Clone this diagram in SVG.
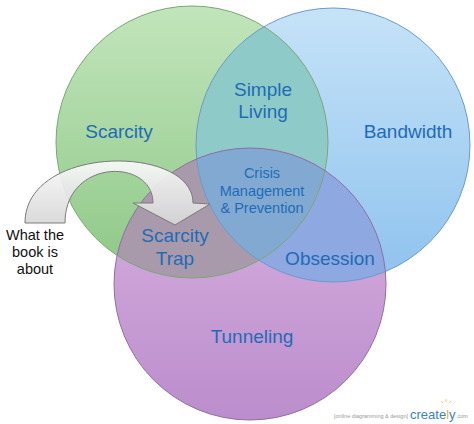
<svg xmlns="http://www.w3.org/2000/svg" width="474" height="424" viewBox="0 0 474 424">
<style>
.lbl{font-family:"Liberation Sans",Arial,sans-serif;fill:#1f6cb6;text-anchor:middle}
.big{font-size:19px}
.small{font-size:14.5px}
.note{font-family:"Liberation Sans",Arial,sans-serif;font-size:14.5px;fill:#111;text-anchor:middle}
.ring{fill:none;stroke-width:1}
</style>
<defs>
<linearGradient id="gG" x1="0" y1="0" x2="0" y2="1"><stop offset="0" stop-color="#c2e5bb"/><stop offset="1" stop-color="#8ec887"/></linearGradient>
<linearGradient id="gB" x1="0" y1="0" x2="0" y2="1"><stop offset="0" stop-color="#c6e3f8"/><stop offset="1" stop-color="#8ec2ee"/></linearGradient>
<linearGradient id="gP" x1="0" y1="0" x2="0" y2="1"><stop offset="0" stop-color="#dab4e2"/><stop offset="1" stop-color="#bb8dcc"/></linearGradient>
<linearGradient id="gA" x1="0" y1="0" x2="0" y2="1"><stop offset="0" stop-color="#fafafa"/><stop offset="1" stop-color="#d6d6d6"/></linearGradient>
<clipPath id="cG"><circle cx="192" cy="142" r="136"/></clipPath>
<clipPath id="cB"><circle cx="333" cy="145" r="137"/></clipPath>
</defs>
<rect width="474" height="424" fill="#ffffff"/>
<g id="scarcity"><circle cx="192" cy="142" r="136" fill="url(#gG)"/></g>
<g id="bandwidth"><circle cx="333" cy="145" r="137" fill="url(#gB)"/></g>
<g id="tunneling"><circle cx="250" cy="284" r="136" fill="url(#gP)"/></g>
<g id="simple-living"><circle cx="333" cy="145" r="137" fill="#8ecac8" clip-path="url(#cG)"/></g>
<g id="scarcity-trap"><circle cx="250" cy="284" r="136" fill="#a99aab" clip-path="url(#cG)"/></g>
<g id="obsession"><circle cx="250" cy="284" r="136" fill="#8ea8e2" clip-path="url(#cB)"/></g>
<g id="crisis"><g clip-path="url(#cG)"><circle cx="250" cy="284" r="136" fill="#82a9d2" clip-path="url(#cB)"/></g></g>
<g id="outlines">
<circle class="ring" cx="192" cy="142" r="136" stroke="#7aa874"/>
<circle class="ring" cx="333" cy="145" r="137" stroke="#6a9acc"/>
<circle class="ring" cx="250" cy="284" r="136" stroke="#8e70a2"/>
</g>
<g id="connectors">
<path d="M25,223 C25,144 193,144 193,203 L210,204 L175,225 L133,203 L153,203 C153,158 65,158 65,223 Z" fill="url(#gA)" fill-opacity="0.92" stroke="#7a7a7a" stroke-width="1"/>
</g>
<g id="labels">
<text class="lbl big" x="119" y="138">Scarcity</text>
<text class="lbl big" x="263" y="96">Simple</text>
<text class="lbl big" x="263" y="118">Living</text>
<text class="lbl big" x="408" y="138">Bandwidth</text>
<text class="lbl small" x="262" y="178">Crisis</text>
<text class="lbl small" x="262" y="196">Management</text>
<text class="lbl small" x="262" y="213">&amp; Prevention</text>
<text class="lbl big" x="175" y="242">Scarcity</text>
<text class="lbl big" x="175" y="265">Trap</text>
<text class="lbl big" x="330" y="265">Obsession</text>
<text class="lbl big" x="252" y="343">Tunneling</text>
</g>
<g id="note">
<text class="note" x="35" y="240">What the</text>
<text class="note" x="35" y="257">book is</text>
<text class="note" x="35" y="274">about</text>
</g>
<g id="watermark" font-family="'Liberation Sans',Arial,sans-serif">
<text x="408" y="418" font-size="5.5" fill="#999" text-anchor="end">[online diagramming &amp; design]</text>
<text x="410" y="419" font-size="13" fill="#3d7fc4">create<tspan fill="#f2b01e">l</tspan>y</text>
<text x="456" y="418" font-size="5.5" fill="#999">.com</text>
<g stroke="#f5c040" stroke-width="0.8">
<line x1="446" y1="402" x2="446" y2="399"/><line x1="449" y1="403" x2="451" y2="401"/><line x1="443" y1="403" x2="441" y2="401"/>
</g>
</g>
</svg>
